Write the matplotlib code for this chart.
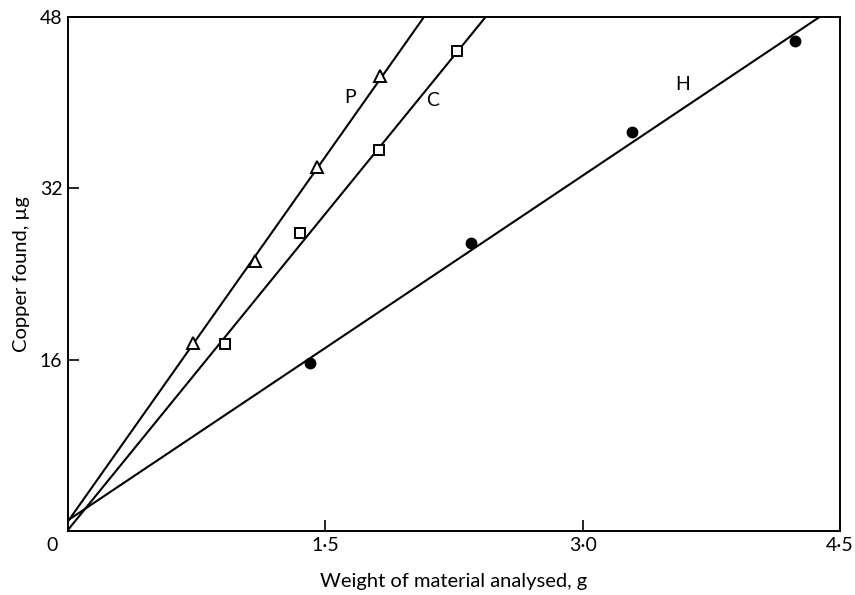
import numpy as np
import matplotlib.pyplot as plt

plt.rcParams['font.family'] = ['Lato', 'DejaVu Sans']

# measured points for the three materials
p_x = [0.73, 1.09, 1.45, 1.82]
p_y = [17.6, 25.2, 34.0, 42.5]
c_x = [0.915, 1.35, 1.81, 2.27]
c_y = [17.5, 27.8, 35.6, 44.8]
h_x = [1.41, 2.35, 3.29, 4.24]
h_y = [15.7, 26.9, 37.3, 45.8]

# fitted straight lines: intercept, slope
p_fit = (0.9, 22.7)
c_fit = (0.1, 19.68)
h_fit = (1.0, 10.73)

fig = plt.figure(figsize=(8.55, 5.95), dpi=100)
ax = fig.add_axes([0.0795, 0.1076, 0.903, 0.8638])

for (a, b) in (p_fit, c_fit, h_fit):
    x_end = (48 - a) / b
    xs = np.array([0, x_end])
    ax.plot(xs, a + b * xs, color='black', lw=1.5, zorder=2)

ax.plot(p_x, p_y, ls='none', marker='^', ms=8.5, mfc='white', mec='black', mew=1.4, zorder=3)
ax.plot(c_x, c_y, ls='none', marker='s', ms=6.5, mfc='white', mec='black', mew=1.4, zorder=3)
ax.plot(h_x, h_y, ls='none', marker='o', ms=7.5, mfc='black', mec='black', zorder=3)

ax.text(1.643, 40.5, 'P', fontsize=14, ha='center', va='center')
ax.text(2.127, 40.2, 'C', fontsize=14, ha='center', va='center')
ax.text(3.584, 41.7, 'H', fontsize=14, ha='center', va='center')

ax.set_xlim(0, 4.5)
ax.set_ylim(0, 48)
ax.set_xticks([1.5, 3.0, 4.5])
ax.set_xticklabels(['1·5', '3·0', '4·5'])
ax.set_yticks([16, 32, 48])
ax.set_yticklabels(['16', '32', '48'])
ax.tick_params(direction='in', length=8, width=1.2, labelsize=14, pad=4)
ax.text(-0.09, -1.4, '0', fontsize=14, ha='center', va='center')

for s in ax.spines.values():
    s.set_linewidth(1.4)

ax.set_xlabel('Weight of material analysed, g', fontsize=14.5, labelpad=14)
ax.set_ylabel('Copper found, µg', fontsize=14.5, labelpad=7)

fig.savefig('out.png', dpi=100)
